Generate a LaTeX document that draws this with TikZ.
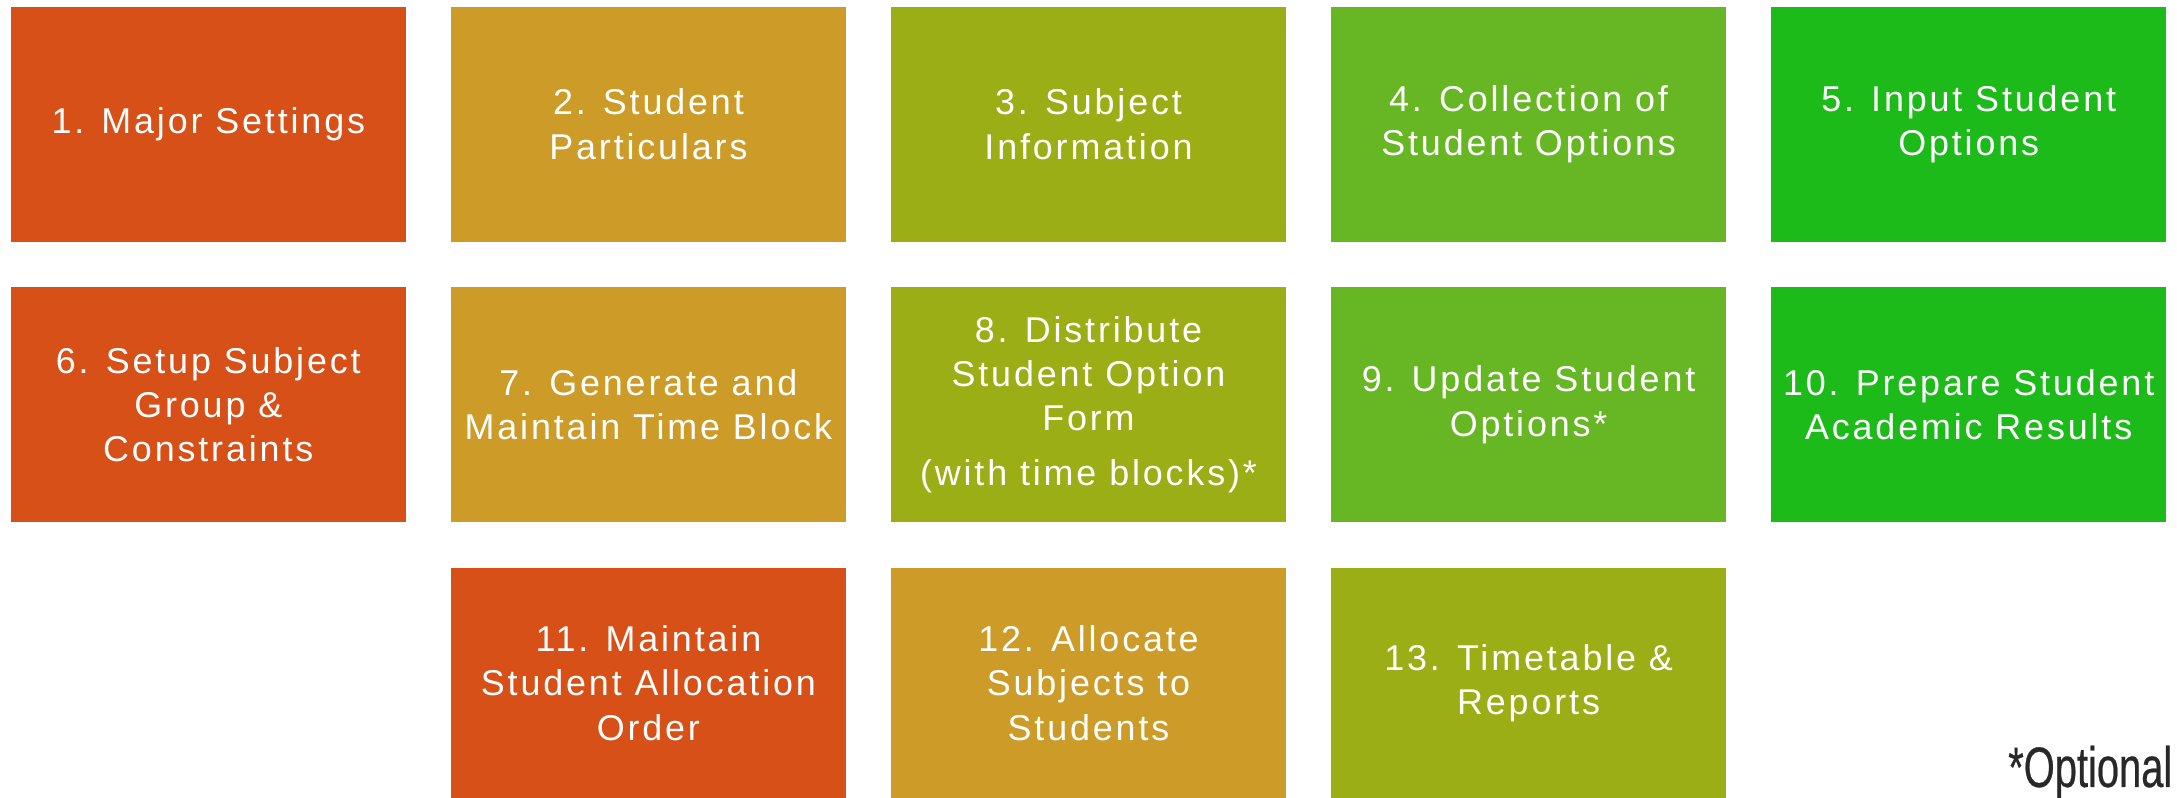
\documentclass[tikz,border=0pt]{standalone}
\usepackage{fontspec}
\setmainfont{Liberation Sans}[LetterSpace=8]
\newfontfamily\notefont{Liberation Sans}[FakeStretch=0.7,FakeBold=0.4]
\usepackage{xcolor}
\definecolor{stepOrange}{RGB}{214,80,24}
\definecolor{stepGold}{RGB}{205,156,40}
\definecolor{stepOlive}{RGB}{156,174,22}
\definecolor{stepLime}{RGB}{103,183,36}
\definecolor{stepGreen}{RGB}{28,187,26}
\definecolor{noteGray}{RGB}{40,40,40}

\begin{document}
\begin{tikzpicture}[x=0.01cm, y=-0.01cm]
		\useasboundingbox[fill=white] (0,0) rectangle (2177,798);
		\begin{scope}[every node/.style={rectangle, inner sep=0pt, text=white, align=center,
				minimum width=3.943cm, minimum height=2.346cm,
				font=\fontsize{10.2pt}{12.6pt}\selectfont}]
			\node[fill=stepOrange] (major) at (208.3,124.2) {1. Major Settings};
			\node[fill=stepGold] (particulars) at (648.4,124.2) {2. Student\\Particulars};
			\node[fill=stepOlive] (subject) at (1088.5,124.2) {3. Subject\\Information};
			\node[fill=stepLime] (collect) at (1528.6,124.2) {4. Collection of\\Student Options};
			\node[fill=stepGreen] (input) at (1968.7,124.2) {5. Input Student\\Options};
			
			\node[fill=stepOrange] (group) at (208.3,404.7) {6. Setup Subject\\Group \&\\Constraints};
			\node[fill=stepGold] (timeblock) at (648.4,404.7) {7. Generate and\\Maintain Time Block};
			\node[fill=stepOlive] (form) at (1088.5,404.7) {8. Distribute\\Student Option\\Form\\[3pt](with time blocks)*};
			\node[fill=stepLime] (update) at (1528.6,404.7) {9. Update Student\\Options*};
			\node[fill=stepGreen] (results) at (1968.7,404.7) {10. Prepare Student\\Academic Results};
		\end{scope}
		\begin{scope}[every node/.style={rectangle, inner sep=0pt, text=white, align=center,
				minimum width=3.943cm, minimum height=2.3cm,
				font=\fontsize{10.2pt}{12.6pt}\selectfont}]
			\node[fill=stepOrange] (order) at (648.4,683) {11. Maintain\\Student Allocation\\Order};
			\node[fill=stepGold] (allocate) at (1088.5,683) {12. Allocate\\Subjects to\\Students};
			\node[fill=stepOlive] (reports) at (1528.6,683) {13. Timetable \&\\Reports};
		\end{scope}
		\node[anchor=base east, inner sep=0pt, text=noteGray,
			font=\notefont\fontsize{16.2pt}{18pt}\selectfont] (optional) at (2173,787) {*Optional};
	\end{tikzpicture}
\end{document}
